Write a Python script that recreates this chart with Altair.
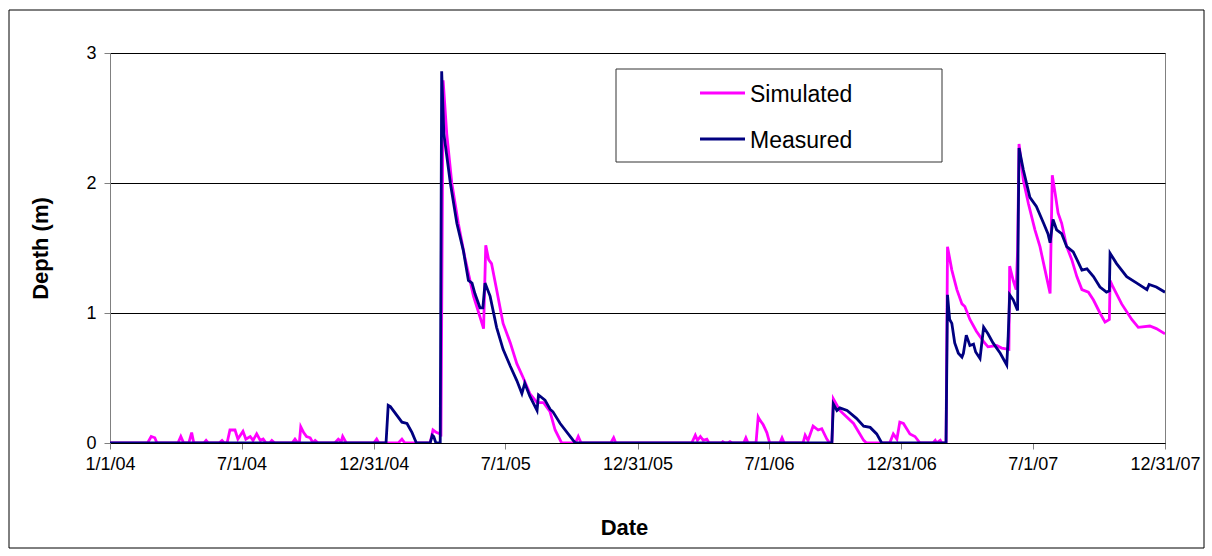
import altair as alt
import pandas as pd

# ---------------- data (day index: days since 1/1/04) ----------------
meas_days = [0, 382, 385, 388, 404, 411, 418, 424, 443, 446, 448, 451, 457, 459, 462, 471, 480, 489, 496,
             501, 505, 512, 516, 519, 526, 535, 544, 554, 563, 570, 574, 581, 591, 593, 602, 609, 613,
             623, 641, 644, 999, 1001, 1006, 1010, 1020, 1033, 1043, 1052, 1061, 1068, 1157, 1159, 1162,
             1165, 1169, 1174, 1179, 1181, 1185, 1190, 1195, 1198, 1204, 1209, 1215, 1222, 1232, 1241,
             1243, 1245, 1250, 1256, 1257, 1258, 1264, 1273, 1282, 1292, 1298, 1301, 1305, 1310, 1317,
             1324, 1333, 1340, 1345, 1352, 1361, 1370, 1379, 1383, 1384, 1393, 1407, 1421, 1435, 1438,
             1448, 1460]
meas_vals = [0, 0, 0.29, 0.28, 0.16, 0.15, 0.08, 0, 0, 0.06, 0.05, 0, 0, 2.86, 2.38, 2.0, 1.69, 1.48, 1.25,
             1.23, 1.15, 1.04, 1.04, 1.23, 1.13, 0.89, 0.72, 0.59, 0.48, 0.38, 0.46, 0.36, 0.25, 0.37,
             0.33, 0.26, 0.24, 0.15, 0.02, 0, 0, 0.30, 0.25, 0.27, 0.25, 0.19, 0.13, 0.12, 0.07, 0, 0, 1.14,
             0.95, 0.92, 0.77, 0.69, 0.66, 0.69, 0.83, 0.75, 0.76, 0.70, 0.65, 0.89, 0.84, 0.77, 0.69, 0.60,
             0.82, 1.14, 1.10, 1.02, 1.74, 2.27, 2.10, 1.89, 1.82, 1.69, 1.61, 1.54, 1.72, 1.64, 1.61,
             1.51, 1.47, 1.39, 1.33, 1.34, 1.28, 1.20, 1.16, 1.17, 1.46, 1.38, 1.28, 1.23, 1.18, 1.22,
             1.20, 1.16]

sim_days = [0, 52, 57, 62, 65, 94, 98, 102, 109, 113, 116, 130, 133, 136, 151, 155, 158, 162, 166, 173,
            177, 184, 188, 194, 198, 203, 208, 212, 216, 221, 224, 228, 252, 256, 260, 262, 264, 268, 272,
            277, 281, 284, 288, 311, 316, 320, 322, 327, 365, 369, 372, 399, 404, 408, 443, 447, 452, 457,
            458, 461, 466, 473, 482, 491, 503, 512, 517, 520, 524, 528, 535, 544, 554, 563, 572, 581, 591,
            600, 609, 616, 625, 644, 648, 652, 693, 697, 700, 805, 810, 813, 817, 821, 826, 829, 846, 848,
            851, 855, 858, 861, 877, 880, 883, 894, 897, 899, 904, 909, 913, 927, 930, 933, 959, 962, 966,
            973, 980, 985, 992, 996, 999, 1001, 1010, 1029, 1043, 1047, 1079, 1084, 1089, 1093, 1098,
            1107, 1114, 1121, 1139, 1142, 1144, 1149, 1151, 1157, 1159, 1165, 1172, 1179, 1183, 1190,
            1199, 1209, 1215, 1227, 1234, 1244, 1245, 1250, 1254, 1256, 1258, 1264, 1271, 1280, 1287,
            1294, 1301, 1304, 1308, 1312, 1317, 1324, 1331, 1338, 1345, 1354, 1361, 1370, 1377, 1383,
            1384, 1388, 1400, 1414, 1423, 1439, 1448, 1460]
sim_vals = [0, 0, 0.05, 0.04, 0, 0, 0.05, 0, 0, 0.08, 0, 0, 0.02, 0, 0, 0.02, 0, 0, 0.10, 0.10,
            0.03, 0.09, 0.03, 0.05, 0.02, 0.07, 0.02, 0.03, 0, 0, 0.02, 0, 0, 0.03, 0, 0, 0.125, 0.08, 0.05,
            0.04, 0, 0.02, 0, 0, 0.03, 0.01, 0.05, 0, 0, 0.03, 0, 0, 0.03, 0, 0, 0.10, 0.08, 0.07,
            0.05, 2.79, 2.38, 2.0, 1.69, 1.43, 1.13, 0.97, 0.88, 1.52, 1.41, 1.38, 1.18, 0.92, 0.77, 0.61,
            0.50, 0.38, 0.31, 0.31, 0.24, 0.10, 0, 0, 0.05, 0, 0, 0.04, 0, 0, 0.06, 0.02, 0.05, 0.02, 0.03,
            0, 0, 0.01, 0, 0, 0.01, 0, 0, 0.04, 0, 0, 0.20, 0.18, 0.14, 0.08, 0, 0, 0.04, 0, 0, 0.06,
            0.02, 0.13, 0.10, 0.11, 0.03, 0, 0, 0.34, 0.25, 0.15, 0.02, 0, 0, 0.07, 0.03, 0.16, 0.15,
            0.07, 0.05, 0, 0, 0.02, 0, 0.02, 0, 0, 1.51, 1.33, 1.18, 1.07, 1.05, 0.95,
            0.86, 0.78, 0.74, 0.75, 0.73, 0.72, 1.36, 1.25, 1.18, 1.48, 2.30, 2.02, 1.84, 1.64, 1.51,
            1.33, 1.15, 2.06, 1.92, 1.77, 1.69, 1.51, 1.41, 1.28, 1.18, 1.16, 1.10, 1.0, 0.93, 0.95,
            1.25, 1.20, 1.07, 0.95, 0.89, 0.90, 0.88, 0.84]

series_names = ["Simulated", "Measured"]
series_colors = ["#FF00FF", "#000080"]

tick_days = [0, 182, 365, 547, 730, 912, 1095, 1277, 1460]
tick_labels = ["1/1/04", "7/1/04", "12/31/04", "7/1/05", "12/31/05", "7/1/06", "12/31/06", "7/1/07", "12/31/07"]
y_ticks = [0, 1, 2, 3]

# ---------------- build table ----------------
df = pd.concat([
    pd.DataFrame({"day": sim_days, "depth": sim_vals, "series": series_names[0]}),
    pd.DataFrame({"day": meas_days, "depth": meas_vals, "series": series_names[1]}),
], ignore_index=True)

label_expr = "".join(f"datum.value == {d} ? '{l}' : " for d, l in zip(tick_days, tick_labels)) + "''"

FONT = "Liberation Sans"
W, H = 1055, 390

x_enc = alt.X("day:Q",
              scale=alt.Scale(domain=[0, 1460], nice=False, zero=False),
              axis=alt.Axis(values=tick_days, labelExpr=label_expr, title="Date",
                            grid=False, tickSize=6, labelPadding=6, labelFontSize=18,
                            labelColor="black", domainColor="black", tickColor="#808080",
                            titleFontSize=22, titleFontWeight="bold", titleColor="black",
                            titleX=514, titleY=84, titleBaseline="middle", labelOverlap=False,
                            labelFlush=False))
y_enc = alt.Y("depth:Q",
              scale=alt.Scale(domain=[0, 3], nice=False),
              axis=alt.Axis(values=y_ticks, format="d", title="Depth (m)", grid=True,
                            gridColor="black", gridWidth=1, tickSize=6, labelPadding=8,
                            labelFontSize=18, labelColor="black", domainColor="#808080",
                            tickColor="#808080", titleFontSize=22, titleFontWeight="bold",
                            titleColor="black", titleX=-70, titleY=H / 2, titleBaseline="middle"))
color_enc = alt.Color("series:N", scale=alt.Scale(domain=series_names, range=series_colors), legend=None)

lines = []
for name in series_names:
    lines.append(
        alt.Chart(df).transform_filter(alt.datum.series == name)
        .mark_line(strokeWidth=2.8, interpolate="linear", clip=True)
        .encode(x=x_enc, y=y_enc, color=color_enc)
    )

one = pd.DataFrame({"k": [0]})

# outer chart border
border = alt.Chart(one).mark_rect(fill=None, stroke="black", strokeWidth=1).encode(
    x=alt.value(-101), x2=alt.value(1094), y=alt.value(-43), y2=alt.value(495))

# legend (Excel-style box)
leg_box = alt.Chart(one).mark_rect(fill="white", stroke="#333333", strokeWidth=1).encode(
    x=alt.value(506), x2=alt.value(832), y=alt.value(16), y2=alt.value(109))
leg_layers = [leg_box]
for i, (name, col) in enumerate(zip(series_names, series_colors)):
    yy = 40 + 46 * i
    leg_layers.append(alt.Chart(one).mark_rule(color=col, strokeWidth=2.8).encode(
        x=alt.value(590), x2=alt.value(635), y=alt.value(yy)))
    leg_layers.append(alt.Chart(pd.DataFrame({"t": [name]})).mark_text(
        align="left", baseline="middle", fontSize=23, font=FONT, color="black").encode(
        x=alt.value(640), y=alt.value(yy + 2), text="t:N"))

chart = alt.layer(*lines, *leg_layers, border).properties(
    width=W, height=H,
    autosize=alt.AutoSizeParams(type="none"),
    padding={"left": 110, "top": 53, "right": 47, "bottom": 113},
).configure(font=FONT).configure_view(stroke="#808080", strokeWidth=1).configure_axis(
    labelFont=FONT, titleFont=FONT)

chart.save("out.html", embed_options={"renderer": "svg", "actions": False})
